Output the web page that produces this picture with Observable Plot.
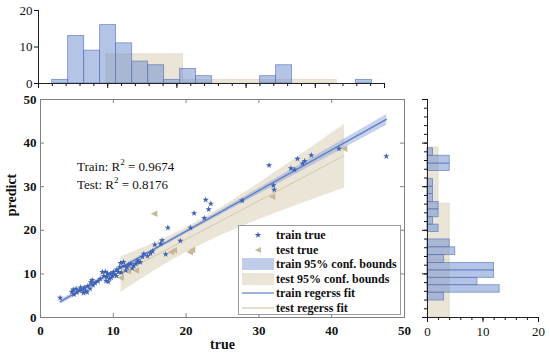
<!DOCTYPE html>
<html><head><meta charset="utf-8">
<script src="https://cdn.jsdelivr.net/npm/d3@7"></script>
<script src="https://cdn.jsdelivr.net/npm/@observablehq/plot@0.6"></script>
<style>
body{margin:0;background:#fff;}
#wrap{position:relative;width:550px;height:359px;overflow:hidden;font-family:"Liberation Serif","Times New Roman",serif;color:#111;}
.layer{position:absolute;}
.layer svg text{font-family:"Liberation Serif","Times New Roman",serif;}
.lbl{position:absolute;white-space:nowrap;}
#legend{position:absolute;left:238px;top:225px;width:163px;height:90px;background:#fff;border:1px solid #9a9a9a;box-sizing:border-box;}
.lrow{position:absolute;left:0;height:14px;font-weight:bold;font-size:12px;line-height:14px;}
.lrow svg{position:absolute;left:2px;top:0;}
.lrow span{position:absolute;left:37px;top:0;white-space:nowrap;}
</style></head><body><div id="wrap"></div>
<script>
// ---- scatter data (true, predict) ----
const trainTrue = [2.7,4.3,4.5,4.6,4.9,5.0,5.3,5.5,5.7,5.9,6.0,6.2,6.4,6.5,6.8,6.9,7.1,7.2,7.5,7.9,8.2,8.5,8.7,8.9,9.0,9.1,9.2,9.3,9.5,9.6,9.7,9.9,10.0,10.2,10.4,10.5,10.7,10.9,11.0,11.1,11.4,11.5,11.7,11.9,12.1,12.4,12.6,12.8,13.1,13.3,13.4,13.7,14.0,14.2,14.7,15.1,15.4,15.7,16.5,16.7,17.2,17.5,19.2,20.6,21.1,22.5,22.7,23.1,23.4,27.7,31.4,32.0,32.1,34.4,34.9,35.3,36.0,36.3,37.2,41.0,47.5];
const trainPred = [4.5,5.9,6.4,5.3,6.6,5.8,6.2,6.9,6.3,5.6,6.9,6.1,5.8,7.2,6.6,8.1,8.6,7.4,7.9,8.3,8.9,10.4,9.5,10.5,8.4,9.3,10.1,8.2,8.9,10.0,9.1,9.6,10.4,9.9,9.5,11.0,10.4,11.6,12.5,10.3,12.7,11.8,10.8,11.5,12.1,12.3,11.3,11.9,12.3,12.7,13.1,12.7,13.9,14.6,14.1,14.7,15.2,16.7,16.9,17.7,14.5,20.6,17.6,20.6,23.9,22.8,27.0,24.8,26.1,26.8,34.9,30.3,29.3,34.2,33.9,36.4,35.3,35.9,37.2,38.7,37.0];
const testTrue = [11.0,12.0,13.1,15.6,17.9,18.3,20.5,20.8,31.8,41.7];
const testPred = [9.1,10.6,10.8,23.8,15.0,15.4,15.0,15.5,27.7,38.7];

// ---- marginal histograms ----
const topTrainEdges = [1.98,4.29,6.60,8.91,11.22,13.54,15.85,18.16,20.47,22.78,25.09,27.40,29.71,32.03,34.34,36.65,38.96,41.27,43.58,45.89,48.20];
const topTrainCounts = [1,13,9,16,11,6,5,1,4,2,0,0,0,2,5,0,0,0,0,1];
const topTestEdges = [9.8,20.9,32.0,43.1];
const topTestCounts = [8,1,1];
const sideTrainEdges = [3.9,5.7,7.4,9.1,10.8,12.5,14.3,16.1,17.9,19.6,21.3,23.0,24.8,26.5,28.3,30.0,31.8,33.6,35.3,37.1,38.8];
const sideTrainCounts = [3,13,9,12,12,3,5,4,0,2,1,2,2,1,1,1,0,4,4,1];
const sideTestEdges = [0.1,13.1,26.1,39.0];
const sideTestCounts = [4,4,2];

// ---- ticks & text ----
const axisTicks = [0,10,20,30,40,50];
const histTicks = [0,10,20];
const xTitle = "true", yTitle = "predict";
const r2Labels = ["Train: R", "Test: R"];
const r2Values = ["0.9674", "0.8176"];
const legendLabels = ["train true","test true","train 95% conf. bounds","test 95% conf. bounds","train regerss fit","test regerss fit"];

// ---- colors ----
const cStar = "#3f62b3", cTri = "#c6b898";
const cTrainLine = "#5d7cc3", cTrainBand = "#7f99d6";
const cTestLine = "#d3c7ab", cTestBand = "#d8ccb1";
const cHistBlue = "#6a8acd", cHistBlueStroke = "#5a76bd";
const cHistBeige = "#d8ccb0";
const serif = '"Liberation Serif", "Times New Roman", serif';

const wrap = document.getElementById("wrap");
function place(node, left, topPx) {
  const d = document.createElement("div");
  d.className = "layer"; d.style.left = left + "px"; d.style.top = topPx + "px";
  d.appendChild(node); wrap.appendChild(d); return d;
}

const trainData = trainTrue.map((x, i) => ({x, y: trainPred[i]}));
const testData = testTrue.map((x, i) => ({x, y: testPred[i]}));
const bins = (edges, counts) => counts.map((c, i) => ({a: edges[i], b: edges[i + 1], c})).filter(d => d.c > 0);

const leftTri = {draw(ctx, size) { const s = Math.sqrt(size / Math.PI); ctx.moveTo(-s, 0); ctx.lineTo(s, -s); ctx.lineTo(s, s); ctx.closePath(); }};

// ---- main scatter ----
const mainW = 420, mainH = 274, mL = 40, mR = 16, mT = 14, mB = 42;
const innerW = mainW - mL - mR, innerH = mainH - mT - mB, tk = 4;
const mainPlot = Plot.plot({
  width: mainW, height: mainH, marginLeft: mL, marginRight: mR, marginTop: mT, marginBottom: mB,
  x: {domain: [0, 50]}, y: {domain: [0, 50]},
  style: {fontFamily: serif, fontSize: "13px", fontWeight: "bold", background: "transparent", color: "#111"},
  marks: [
    Plot.linearRegressionY(testData, {x: "x", y: "y", stroke: cTestLine, strokeWidth: 1, fill: cTestBand, fillOpacity: 0.5}),
    Plot.linearRegressionY(trainData, {x: "x", y: "y", stroke: cTrainLine, strokeWidth: 1.3, fill: cTrainBand, fillOpacity: 0.45}),
    Plot.dot(testData, {x: "x", y: "y", symbol: leftTri, r: 3.3, fill: cTri, stroke: "none"}),
    Plot.dot(trainData, {x: "x", y: "y", symbol: "star", r: 2, fill: cStar, stroke: "none"}),
    Plot.frame({stroke: "#808080"}),
    Plot.tickX(axisTicks, {x: d => d, insetTop: innerH - tk, stroke: "#808080"}),
    Plot.tickX(axisTicks, {x: d => d, insetBottom: innerH - tk, stroke: "#808080"}),
    Plot.tickY(axisTicks, {y: d => d, insetRight: innerW - tk, stroke: "#808080"}),
    Plot.tickY(axisTicks, {y: d => d, insetLeft: innerW - tk, stroke: "#808080"}),
    Plot.axisX({ticks: axisTicks, tickSize: 0, tickPadding: 8, label: null}),
    Plot.axisY({ticks: axisTicks, tickSize: 0, tickPadding: 4, label: null})
  ]
});
place(mainPlot, 0, 85);

// ---- top histogram ----
const topPlot = Plot.plot({
  width: 400, height: 95, marginLeft: 38, marginRight: 16, marginTop: 10, marginBottom: 12,
  x: {domain: [0, 50]}, y: {domain: [0, 20]},
  style: {fontFamily: serif, fontSize: "13px", background: "transparent", color: "#111"},
  marks: [
    Plot.rectY(bins(topTestEdges, topTestCounts), {x1: "a", x2: "b", y1: 0, y2: "c", fill: cHistBeige, fillOpacity: 0.5, stroke: cHistBeige, strokeOpacity: 0.6, strokeWidth: 0.8}),
    Plot.rectY(bins(topTrainEdges, topTrainCounts), {x1: "a", x2: "b", y1: 0, y2: "c", fill: cHistBlue, fillOpacity: 0.5, stroke: cHistBlueStroke, strokeOpacity: 0.8, strokeWidth: 0.8}),
    Plot.axisX({ticks: d3.range(0, 51, 2), tickSize: 3, tickFormat: () => "", label: null}),
    Plot.axisX({ticks: axisTicks, tickSize: 5, tickFormat: () => "", label: null}),
    Plot.axisY({ticks: histTicks, tickSize: 4, tickPadding: 2, label: null}),
    Plot.ruleY([0], {stroke: "#222"}),
    Plot.ruleX([0], {stroke: "#222"})
  ]
});
place(topPlot, 0, 0);

// ---- right histogram ----
const sidePlot = Plot.plot({
  width: 135, height: 274, marginLeft: 12, marginRight: 12, marginTop: 14, marginBottom: 42,
  x: {domain: [0, 20]}, y: {domain: [0, 50]},
  style: {fontFamily: serif, fontSize: "13px", background: "transparent", color: "#111"},
  marks: [
    Plot.rectX(bins(sideTestEdges, sideTestCounts), {y1: "a", y2: "b", x1: 0, x2: "c", fill: cHistBeige, fillOpacity: 0.5, stroke: cHistBeige, strokeOpacity: 0.6, strokeWidth: 0.8}),
    Plot.rectX(bins(sideTrainEdges, sideTrainCounts), {y1: "a", y2: "b", x1: 0, x2: "c", fill: cHistBlue, fillOpacity: 0.5, stroke: cHistBlueStroke, strokeOpacity: 0.8, strokeWidth: 0.8}),
    Plot.axisY({ticks: d3.range(0, 51, 2), tickSize: 3, tickFormat: () => "", label: null}),
    Plot.axisY({ticks: axisTicks, tickSize: 5, tickFormat: () => "", label: null}),
    Plot.axisX({ticks: d3.range(0, 21, 2), tickSize: 3, tickFormat: () => "", label: null}),
    Plot.axisX({ticks: histTicks, tickSize: 5, tickPadding: 4, label: null}),
    Plot.ruleX([0], {stroke: "#222"}),
    Plot.ruleY([0], {stroke: "#222"})
  ]
});
place(sidePlot, 415, 85);

// ---- titles & annotation ----
function label(html, css) { const d = document.createElement("div"); d.className = "lbl"; d.innerHTML = html; Object.assign(d.style, css); wrap.appendChild(d); return d; }
label(xTitle, {left: "210px", top: "337px", fontWeight: "bold", fontSize: "14px"});
label(yTitle, {left: "12px", top: "195px", fontWeight: "bold", fontSize: "14px", transform: "translate(-50%,-50%) rotate(-90deg)"});
r2Labels.forEach((t, i) => label(`${t}<sup style="font-size:9px;vertical-align:6px">2</sup> = ${r2Values[i]}`,
  {left: "77px", top: (154 + i * 18) + "px", fontSize: "13px", lineHeight: "16px"}));

// ---- legend ----
const lg = document.createElement("div"); lg.id = "legend"; wrap.appendChild(lg);
const starPath = d3.symbol(d3.symbolStar, 14)();
const triPath = d3.symbol(leftTri, 30)();
const sw = [
  `<svg width="34" height="14"><path d="${starPath}" transform="translate(17,7)" fill="${cStar}"/></svg>`,
  `<svg width="34" height="14"><path d="${triPath}" transform="translate(17,7)" fill="${cTri}"/></svg>`,
  `<svg width="34" height="14"><rect x="1" y="1" width="32" height="12" fill="${cTrainBand}" fill-opacity="0.5"/></svg>`,
  `<svg width="34" height="14"><rect x="1" y="1" width="32" height="12" fill="${cTestBand}" fill-opacity="0.5"/></svg>`,
  `<svg width="34" height="14"><line x1="1" x2="33" y1="7" y2="7" stroke="${cTrainLine}" stroke-width="1.2"/></svg>`,
  `<svg width="34" height="14"><line x1="1" x2="33" y1="7" y2="7" stroke="${cTestLine}" stroke-width="1.2"/></svg>`
];
legendLabels.forEach((t, i) => {
  const r = document.createElement("div"); r.className = "lrow"; r.style.top = (2 + i * 14.5) + "px"; r.style.width = "160px";
  r.innerHTML = sw[i] + `<span>${t}</span>`; lg.appendChild(r);
});
</script></body></html>
